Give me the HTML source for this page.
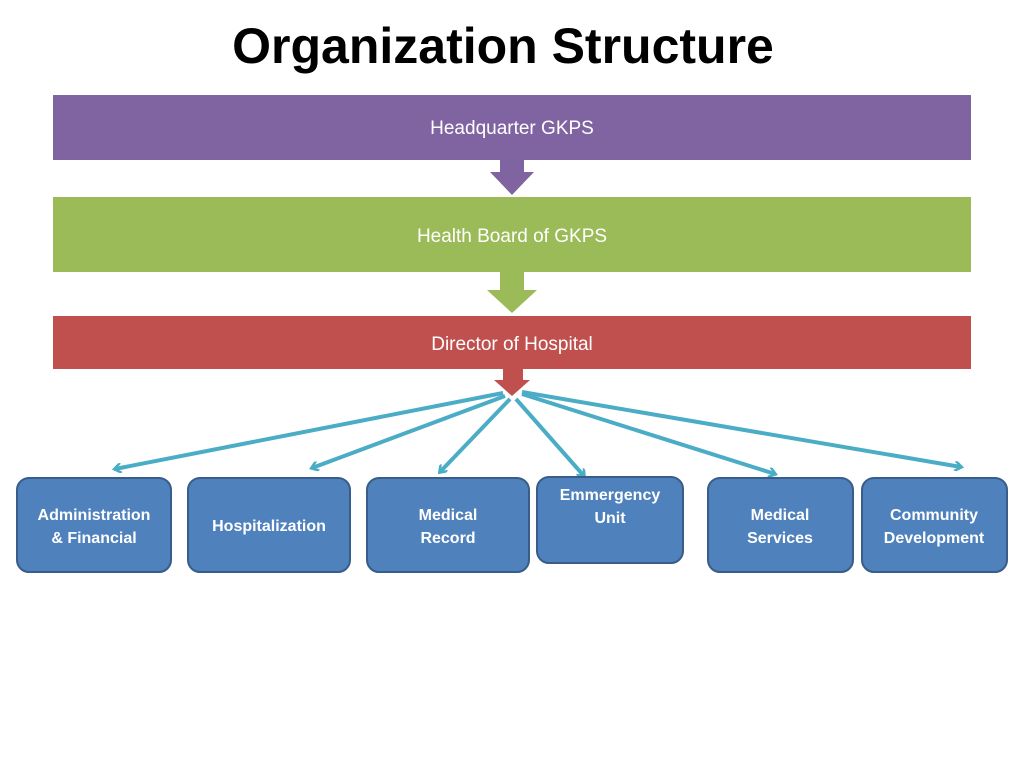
<!DOCTYPE html>
<html><head><style>
body{margin:0;background:#fff;}
</style></head><body>
<svg width="1024" height="768" xmlns="http://www.w3.org/2000/svg" style="display:block;font-family:'Liberation Sans',sans-serif">
<defs>
<marker id="ah" markerWidth="10" markerHeight="10" refX="7" refY="5" orient="auto" markerUnits="userSpaceOnUse" viewBox="0 0 10 10">
<path d="M1,0 L8,5 L1,10" fill="none" stroke="#4bacc6" stroke-width="2.5"/>
</marker>
</defs>
<text x="503" y="63" text-anchor="middle" font-size="50" font-weight="bold" fill="#000">Organization Structure</text>
<rect x="53" y="95" width="918" height="65" fill="#8064a2"/>
<text x="512" y="134" text-anchor="middle" font-size="19" fill="#fff">Headquarter GKPS</text>
<polygon points="500,160 524,160 524,172 534,172 512,195 490,172 500,172" fill="#8064a2"/>
<rect x="53" y="197" width="918" height="75" fill="#9bbb59"/>
<text x="512" y="242" text-anchor="middle" font-size="19" fill="#fff">Health Board of GKPS</text>
<polygon points="500,272 524,272 524,290 537,290 512,313 487,290 500,290" fill="#9bbb59"/>
<rect x="53" y="316" width="918" height="53" fill="#c0504d"/>
<text x="512" y="350" text-anchor="middle" font-size="19" fill="#fff">Director of Hospital</text>
<polygon points="503,369 523,369 523,380 530,380 512,396 494,380 503,380" fill="#c0504d"/>
<g stroke="#4bacc6" stroke-width="4" fill="none" marker-end="url(#ah)">
<line x1="503" y1="393" x2="115" y2="469"/>
<line x1="505" y1="396" x2="312" y2="468"/>
<line x1="510" y1="399" x2="440" y2="472"/>
<line x1="516" y1="399" x2="584" y2="476"/>
<line x1="522" y1="394" x2="775" y2="474"/>
<line x1="522" y1="392" x2="961" y2="467"/>
</g>
<g fill="#4f81bd" stroke="#385d8a" stroke-width="2">
<rect x="17" y="478" width="154" height="94" rx="12"/>
<rect x="188" y="478" width="162" height="94" rx="12"/>
<rect x="367" y="478" width="162" height="94" rx="12"/>
<rect x="537" y="477" width="146" height="86" rx="12"/>
<rect x="708" y="478" width="145" height="94" rx="12"/>
<rect x="862" y="478" width="145" height="94" rx="12"/>
</g>
<g fill="#fff" font-size="16" font-weight="bold" text-anchor="middle">
<text x="94" y="520">Administration</text><text x="94" y="543">&amp; Financial</text>
<text x="269" y="531">Hospitalization</text>
<text x="448" y="520">Medical</text><text x="448" y="543">Record</text>
<text x="610" y="500">Emmergency</text><text x="610" y="523">Unit</text>
<text x="780" y="520">Medical</text><text x="780" y="543">Services</text>
<text x="934" y="520">Community</text><text x="934" y="543">Development</text>
</g>
</svg>
</body></html>
